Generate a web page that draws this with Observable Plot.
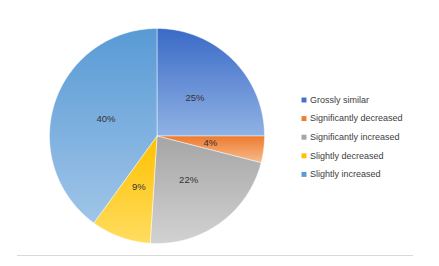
<!DOCTYPE html>
<html>
<head>
<meta charset="utf-8">
<script src="https://cdn.jsdelivr.net/npm/d3@7"></script>
<script src="https://cdn.jsdelivr.net/npm/@observablehq/plot@0.6"></script>
<style>
  html, body { margin: 0; padding: 0; background: #fff; }
  #defs { position: absolute; width: 0; height: 0; }
</style>
</head>
<body>
<svg id="defs" width="0" height="0"><defs id="gradDefs"></defs></svg>
<div id="chart"></div>
<script>
const categories = ["Grossly similar", "Significantly decreased", "Significantly increased", "Slightly decreased", "Slightly increased"];
const values = [25, 4, 22, 9, 40];
const valueLabels = ["25%", "4%", "22%", "9%", "40%"];
const swatchColors = ["#4472c4", "#ed7d31", "#a5a5a5", "#ffc000", "#5b9bd5"];
const gradTop = ["#3a6ac7", "#ed7a2e", "#a5a5a5", "#ffc000", "#589ad5"];
const gradBottom = ["#90b2e4", "#f7bc8e", "#d2d2d2", "#ffdd60", "#a0c5e8"];

const W = 439, H = 266;
const cx = 156.5, cy = 135.5, R = 107.5;
const legendX = 303.5, legendY0 = 99.5, legendStep = 18.6;

// gradients
const defs = d3.select("#gradDefs");
categories.forEach((c, i) => {
  const g = defs.append("linearGradient").attr("id", "g" + i)
    .attr("x1", 0).attr("y1", 0).attr("x2", 0).attr("y2", 1);
  g.append("stop").attr("offset", "0%").attr("stop-color", gradTop[i]);
  g.append("stop").attr("offset", "100%").attr("stop-color", gradBottom[i]);
});

const arcs = d3.pie().sort(null).value(d => d)(values);
const pt = (a, r) => ({x: cx + r * Math.sin(a), y: cy - r * Math.cos(a)});

const slices = arcs.map((a, i) => {
  const pts = [pt(0, 0)];
  const n = Math.max(4, Math.ceil((a.endAngle - a.startAngle) / 0.01));
  for (let k = 0; k <= n; k++) {
    pts.push(pt(a.startAngle + (a.endAngle - a.startAngle) * k / n, R));
  }
  pts.push(pt(0, 0));
  return pts;
});

const labelPts = arcs.map((a, i) => ({...pt((a.startAngle + a.endAngle) / 2, R * 0.5), label: valueLabels[i]}));
const legend = categories.map((c, i) => ({c, i, x: legendX, y: legendY0 + i * legendStep}));

const marks = [
  ...slices.map((pts, i) => Plot.line(pts, {x: "x", y: "y", fill: `url(#g${i})`, stroke: "#ffffff", strokeWidth: 0.6, strokeOpacity: 0.8, curve: "linear-closed"})),
  Plot.text(labelPts, {x: "x", y: "y", text: "label", fill: "#333333", fontSize: 9.5, fontFamily: "Liberation Sans, Arial, sans-serif"}),
  Plot.dot(legend, {x: "x", y: "y", symbol: "square", r: 2.8, fill: (d) => swatchColors[d.i], stroke: null}),
  Plot.text(legend, {x: d => d.x + 6, y: "y", text: "c", textAnchor: "start", fill: "#404040", fontSize: 9, fontFamily: "Liberation Sans, Arial, sans-serif"}),
  Plot.ruleY([255], {x1: 17, x2: 413, stroke: "#d9d9d9", strokeWidth: 1})
];

const chart = Plot.plot({
  width: W, height: H,
  margin: 0,
  x: {domain: [0, W], range: [0, W], axis: null},
  y: {domain: [0, H], range: [0, H], axis: null},
  color: {type: "identity"},
  style: {background: "#fff"},
  marks
});
document.getElementById("chart").appendChild(chart);
</script>
</body>
</html>
